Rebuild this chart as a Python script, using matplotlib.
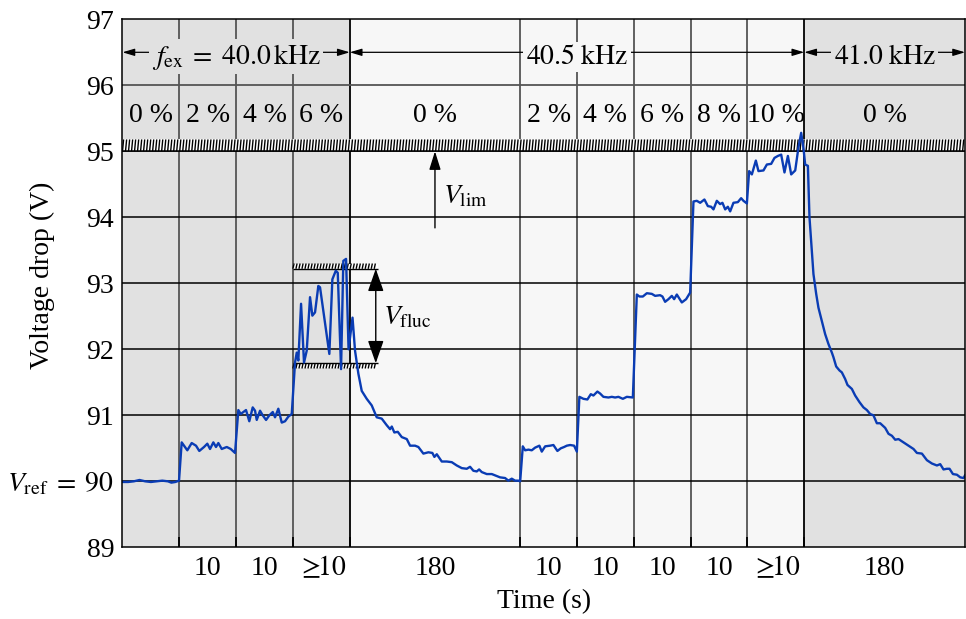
import matplotlib
matplotlib.use('Agg')
import matplotlib.pyplot as plt
from matplotlib.collections import LineCollection
import numpy as np

plt.rcParams['font.family'] = ['Liberation Serif', 'DejaVu Serif']
plt.rcParams['mathtext.fontset'] = 'stix'

# ---------------- data ----------------
# time axis: each 10 s step drawn with equal width; the 180 s recovery phases are compressed
segment_bounds = [0, 10, 20, 30, 40, 70, 80, 90, 100, 110, 120, 148.3]
duty_labels = ['0 %', '2 %', '4 %', '6 %', '0 %', '2 %', '4 %', '6 %', '8 %', '10 %', '0 %']
duration_labels = ['', '10', '10', r'$\geq\!\!10$', '180', '10', '10', '10', '10', r'$\geq\!\!10$', '180']
freq_labels = [r'$f_\mathrm{ex}\;=\;40.0\,\mathrm{kHz}$', r'$40.5\;\mathrm{kHz}$', r'$41.0\;\mathrm{kHz}$']
freq_spans = [(0, 40), (40, 120), (120, 148.3)]

# phase f_ex = 40.0 kHz
t_40k0 = [0, 1, 2, 3, 4, 5, 6, 7, 8, 8.6, 9.3, 9.95,
          10.42, 10.83, 11.41, 12.18, 12.94, 13.52, 14.35, 14.93, 15.41, 15.99, 16.46, 16.87,
          17.47, 18.35, 19.05, 19.81,
          20.39, 20.81, 21.27, 21.74, 22.32, 22.92, 23.33, 23.63, 24.21, 24.68, 25.27, 25.85,
          26.45, 26.85, 27.43, 28.03, 28.61, 29.19, 29.79,
          30.37, 30.67, 30.95, 31.43, 31.95, 32.43, 33.01, 33.42, 33.89, 34.47, 34.77, 36.41,
          36.94, 37.54, 37.89, 38.47, 38.87, 39.35, 39.79]
v_40k0 = [89.99, 89.99, 90.00, 90.02, 90.00, 89.99, 90.00, 90.01, 90.00, 89.98, 89.99, 90.01,
          90.59, 90.54, 90.47, 90.58, 90.54, 90.46, 90.52, 90.57, 90.49, 90.59, 90.52, 90.58,
          90.49, 90.52, 90.49, 90.43,
          91.08, 91.02, 91.05, 91.08, 90.91, 91.12, 91.07, 90.93, 91.07, 91.00, 90.93, 91.00,
          91.05, 90.97, 91.10, 90.89, 90.91, 90.98, 91.02,
          91.80, 91.95, 91.83, 92.69, 91.80, 91.98, 92.79, 92.51, 92.56, 92.96, 92.94, 91.93,
          93.06, 93.19, 93.16, 91.70, 93.34, 93.37, 92.00]

# phase f_ex = 40.5 kHz
t_40k5 = [40.49, 40.93, 41.52, 42.11, 42.99, 43.87, 44.75, 45.63, 46.51, 47.10, 47.40, 47.85,
          48.45, 49.16, 50.04, 50.62, 51.50, 52.08, 52.96, 53.84, 54.54, 54.90, 55.32, 55.72,
          56.20, 57.08, 57.96, 58.84, 59.72, 60.60, 61.18, 61.76, 62.36, 62.77, 63.24, 64.12,
          65.00, 65.58, 66.46, 67.34, 67.92, 68.52, 69.10, 69.69, 70.0,
          70.46, 70.87, 71.45, 72.04, 72.62, 73.38, 73.80, 74.39, 75.27, 75.85, 76.55, 77.15,
          77.73, 78.21, 78.79, 79.49, 79.97,
          80.42, 81.13, 81.83, 82.43, 82.89, 83.59, 84.07, 84.65, 85.53, 86.13, 86.71, 87.29,
          88.07, 88.77, 89.83,
          90.53, 90.99, 91.59, 92.29, 93.17, 93.75, 94.63, 95.04, 95.51, 96.10, 96.69, 97.10,
          97.57, 98.45, 99.21, 99.92,
          100.50, 101.09, 101.68, 102.43, 103.03, 103.61, 104.02, 104.61, 105.19, 105.60, 106.08,
          106.55, 106.96, 107.54, 108.31, 108.89, 109.30, 109.90,
          110.30, 110.78, 111.48, 111.94, 112.82, 113.42, 114.18, 114.76, 115.36, 115.94, 116.52,
          117.12, 117.70, 118.41, 118.98, 119.46, 119.86]
v_40k5 = [92.48, 91.98, 91.63, 91.37, 91.25, 91.15, 90.97, 90.95, 90.85, 90.79, 90.83, 90.74,
          90.75, 90.67, 90.64, 90.54, 90.54, 90.52, 90.42, 90.44, 90.43, 90.37, 90.41, 90.36,
          90.30, 90.30, 90.29, 90.24, 90.20, 90.19, 90.22, 90.16, 90.15, 90.18, 90.14, 90.11,
          90.11, 90.09, 90.06, 90.05, 90.01, 90.04, 90.01, 90.01, 90.00,
          90.53, 90.47, 90.48, 90.47, 90.51, 90.54, 90.45, 90.53, 90.54, 90.55, 90.46, 90.50,
          90.52, 90.54, 90.55, 90.54, 90.45,
          91.28, 91.25, 91.24, 91.32, 91.30, 91.36, 91.33, 91.28, 91.27, 91.28, 91.27, 91.28,
          91.25, 91.28, 91.27,
          92.83, 92.80, 92.80, 92.85, 92.84, 92.81, 92.82, 92.80, 92.72, 92.76, 92.81, 92.76,
          92.83, 92.71, 92.76, 92.86,
          94.24, 94.25, 94.22, 94.27, 94.17, 94.16, 94.12, 94.25, 94.20, 94.22, 94.12,
          94.16, 94.09, 94.22, 94.23, 94.29, 94.25, 94.21,
          94.70, 94.65, 94.86, 94.70, 94.71, 94.80, 94.81, 94.90, 94.93, 94.95, 94.68,
          94.93, 94.65, 94.71, 95.06, 95.28, 95.05]

# phase f_ex = 41.0 kHz
t_41k0 = [120.16, 120.64, 120.92, 121.34, 121.62, 122.10, 122.50, 123.10, 123.68, 124.26, 124.86,
          125.14, 125.62, 126.20, 126.62, 127.20, 127.61, 128.38, 128.96, 129.72, 130.42, 131.02,
          131.60, 132.18, 132.78, 133.36, 134.24, 134.83, 135.43, 136.01, 136.59, 137.47, 138.35,
          139.23, 139.83, 140.71, 141.59, 142.47, 143.35, 143.93, 144.51, 145.11, 145.57, 146.17,
          146.87, 147.46, 148.04, 148.3]
v_41k0 = [94.80, 94.78, 94.00, 93.49, 93.14, 92.84, 92.63, 92.43, 92.23, 92.08, 91.95,
          91.88, 91.74, 91.68, 91.65, 91.55, 91.46, 91.40, 91.30, 91.20, 91.12, 91.08,
          91.02, 91.00, 90.88, 90.88, 90.81, 90.72, 90.69, 90.63, 90.64, 90.59, 90.54,
          90.49, 90.43, 90.42, 90.32, 90.27, 90.24, 90.26, 90.18, 90.19, 90.19, 90.11,
          90.10, 90.06, 90.05, 90.09]

v_lim = 95.0
v_fluc_hi = 93.22
v_fluc_lo = 91.79

# ---------------- styling ----------------
FS = 20
GREY_BG = '#e1e1e1'
LIGHT_BG = '#f7f7f7'
LINE_COLOR = '#0a3cb4'
xmax = segment_bounds[-1]

fig = plt.figure(figsize=(9.66, 6.19), dpi=100)
ax = fig.add_axes([0.1268, 0.1158, 0.8722, 0.853])
ax.set_xlim(0, xmax)
ax.set_ylim(89, 97)

bgs = [GREY_BG, LIGHT_BG, GREY_BG]
for (a, b), c in zip(freq_spans, bgs):
    ax.axvspan(a, b, color=c, lw=0, zorder=0)

# grid
inner = segment_bounds[1:-1]
vcols = ['black' if b in (40, 120) else '#555555' for b in inner]
ax.vlines(inner, 89, 97, colors=vcols, lw=1.3, zorder=1)
ax.hlines([90, 91, 92, 93, 94, 95], 0, xmax, colors='black', lw=1.1, zorder=1.5)
ax.hlines([96], 0, xmax, colors='#555555', lw=1.3, zorder=1.5)


def wall(x0, x1, y0, y1):
    """Hatched 'wall' band made of steep short strokes."""
    ax.fill_between([x0, x1], y0, y1, facecolor='white', lw=0, zorder=2)
    step = 0.53
    slant = 0.2
    xs = np.arange(x0, x1 - slant, step)
    segs = [[(x, y0), (x + slant, y1)] for x in xs]
    ax.add_collection(LineCollection(segs, colors='black', linewidths=1.0, zorder=2.05))


# hatched limit band
wall(0, xmax, v_lim, v_lim + 0.18)
ax.axhline(v_lim, color='black', lw=1.1, zorder=2.1)

# fluctuation bands
fl_x = [30, 45.04]
wall(fl_x[0], fl_x[1], v_fluc_hi, v_fluc_hi + 0.08)
wall(fl_x[0], fl_x[1], v_fluc_lo - 0.08, v_fluc_lo)
ax.hlines([v_fluc_hi, v_fluc_lo], fl_x[0], fl_x[1], colors='black', lw=1.0, zorder=2.1)

# data
t_all = t_40k0 + t_40k5 + t_41k0
v_all = v_40k0 + v_40k5 + v_41k0
ax.plot(t_all, v_all, color=LINE_COLOR, lw=1.7, zorder=4)

# annotations
ax.annotate('', xy=(44.58, v_fluc_hi), xytext=(44.58, v_fluc_lo),
            arrowprops=dict(arrowstyle='<|-|>,head_length=1.0,head_width=0.35', color='black',
                            lw=1.0, shrinkA=0, shrinkB=0, mutation_scale=14), zorder=5)
ax.text(45.9, 92.48, r'$V_\mathrm{fluc}$', fontsize=FS, ha='left', va='center', zorder=5)
ax.annotate('', xy=(55.0, v_lim), xytext=(55.0, 93.84),
            arrowprops=dict(arrowstyle='-|>,head_length=0.8,head_width=0.25', color='black',
                            lw=1.0, shrinkA=0, shrinkB=0, mutation_scale=14), zorder=5)
ax.text(56.4, 94.31, r'$V_\mathrm{lim}$', fontsize=FS, ha='left', va='center', zorder=5)

# frequency row
for (a, b), lab, c in zip(freq_spans, freq_labels, bgs):
    ax.annotate('', xy=(a, 96.5), xytext=(b, 96.5),
                arrowprops=dict(arrowstyle='<|-|>,head_length=0.6,head_width=0.18', color='black',
                                lw=0.9, shrinkA=0, shrinkB=0, mutation_scale=12), zorder=3)
    ax.text((a + b) / 2, 96.33, lab, fontsize=FS, ha='center', va='baseline', zorder=5,
            bbox=dict(facecolor=c, edgecolor='none', pad=2))

# duty row
for i, lab in enumerate(duty_labels):
    xc = (segment_bounds[i] + segment_bounds[i + 1]) / 2
    ax.text(xc, 95.45, lab, fontsize=FS, ha='center', va='baseline', zorder=5)

# axes ticks
ax.set_xticks(inner)
ax.set_xticklabels([])
ax.tick_params(axis='x', which='major', direction='in', length=7, width=1.3, color='black')
centers = [(segment_bounds[i] + segment_bounds[i + 1]) / 2 for i in range(len(duration_labels))]
ax.set_xticks(centers, minor=True)
ax.set_xticklabels(duration_labels, minor=True, fontsize=FS)
ax.tick_params(axis='x', which='minor', length=0, pad=20)
for lab in ax.get_xticklabels(minor=True):
    lab.set_verticalalignment('baseline')

yt = [89, 90, 91, 92, 93, 94, 95, 96, 97]
ylabels = [str(v) if v != 90 else r'$V_\mathrm{ref}\;=\;90$' for v in yt]
ax.set_yticks(yt)
ax.set_yticklabels(ylabels, fontsize=FS)
ax.tick_params(axis='y', length=0, pad=6)

for s in ax.spines.values():
    s.set_color('black')
    s.set_linewidth(1.1)
    s.set_zorder(6)

ax.set_xlabel('Time (s)', fontsize=FS)
ax.xaxis.set_label_coords(0.5, -0.079)
fig.text(42 / 966, 1 - 275 / 619, 'Voltage drop (V)', fontsize=FS, rotation=90,
         ha='center', va='center')

fig.savefig('out.png', dpi=100)
